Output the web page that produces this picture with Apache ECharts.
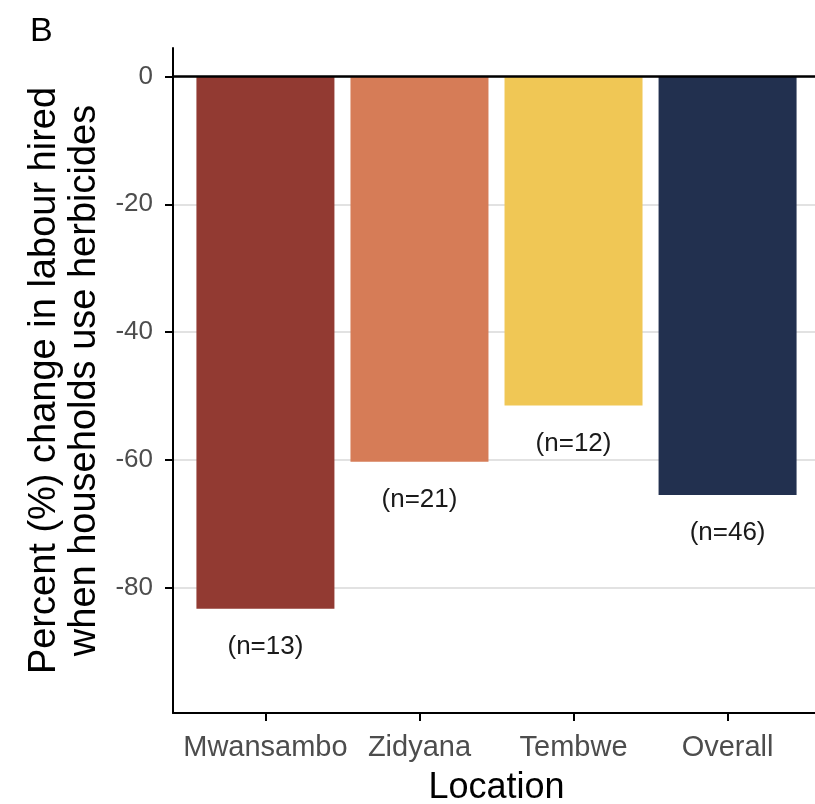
<!DOCTYPE html>
<html>
<head>
<meta charset="utf-8">
<script src="https://cdn.jsdelivr.net/npm/echarts@6/dist/echarts.min.js"></script>
<style>
  html, body { margin: 0; padding: 0; background: #fff; }
  #chart { width: 815px; height: 804px; }
</style>
</head>
<body>
<div id="chart"></div>
<script>
// locations on the x axis
const locations = ['Mwansambo', 'Zidyana', 'Tembwe', 'Overall'];
// percent change in hired labour
const changes = [-83.3, -60.3, -51.5, -65.5];
// sample sizes printed under each bar
const sampleSizes = [13, 21, 12, 46];
const barColors = ['#923a32', '#d67c57', '#f0c755', '#22304f'];
const yTicks = [-80, -60, -40, -20, 0];
const xTicks = [0, 1, 2, 3];

const FONT = '"Liberation Sans", Arial, sans-serif';

const chart = echarts.init(document.getElementById('chart'));

const barData = locations.map((loc, i) => ({
  value: [i, changes[i]],
  itemStyle: { color: barColors[i] },
  label: { formatter: `(n=${sampleSizes[i]})` },
}));

const option = {
  animation: false,
  backgroundColor: '#fff',
  title: {
    text: 'B',
    left: 25,
    top: 10,
    textStyle: { fontFamily: FONT, fontSize: 34, fontWeight: 'normal', color: '#000' },
  },
  // keep the plot box fixed (no auto-shrink for labels)
  grid: { left: 173, top: 48, width: 647, bottom: 91, containLabel: false, outerBoundsMode: 'none' },
  xAxis: {
    type: 'value',
    min: -0.6,
    max: 3.6,
    name: 'Location',
    nameLocation: 'middle',
    nameGap: 57,
    nameTextStyle: { fontFamily: FONT, fontSize: 36, color: '#000' },
    axisLine: { show: true, onZero: false, lineStyle: { color: '#000', width: 2 } },
    axisTick: { show: true, length: 8, customValues: xTicks, lineStyle: { color: '#000', width: 2 } },
    axisLabel: {
      customValues: xTicks,
      formatter: v => locations[Math.round(v)] ?? '',
      fontFamily: FONT,
      fontSize: 29,
      color: '#4d4d4d',
      margin: 20,
    },
    splitLine: { show: false },
  },
  yAxis: {
    type: 'value',
    min: -99.6,
    max: 4.46,
    name: 'Percent (%) change in labour hired\nwhen households use herbicides',
    nameLocation: 'middle',
    nameRotate: 90,
    nameGap: 68,
    nameTextStyle: { fontFamily: FONT, fontSize: 38, lineHeight: 40, color: '#000' },
    axisLine: { show: true, onZero: false, lineStyle: { color: '#000', width: 2 } },
    axisTick: { show: true, length: 8, customValues: yTicks, lineStyle: { color: '#000', width: 2 } },
    axisLabel: {
      customValues: yTicks,
      fontFamily: FONT,
      fontSize: 26,
      color: '#4d4d4d',
      margin: 20,
    },
    splitLine: { show: true, lineStyle: { color: '#d9d9d9', width: 1.5 } },
  },
  series: [{
    type: 'bar',
    barWidth: 138,
    data: barData,
    label: {
      show: true,
      position: 'bottom',
      distance: 25,
      fontFamily: FONT,
      fontSize: 26,
      color: '#1a1a1a',
    },
    markLine: {
      silent: true,
      symbol: 'none',
      label: { show: false },
      lineStyle: { color: '#000', width: 2.5, type: 'solid' },
      data: [{ yAxis: 0 }],
    },
  }],
};

chart.setOption(option);
</script>
</body>
</html>
